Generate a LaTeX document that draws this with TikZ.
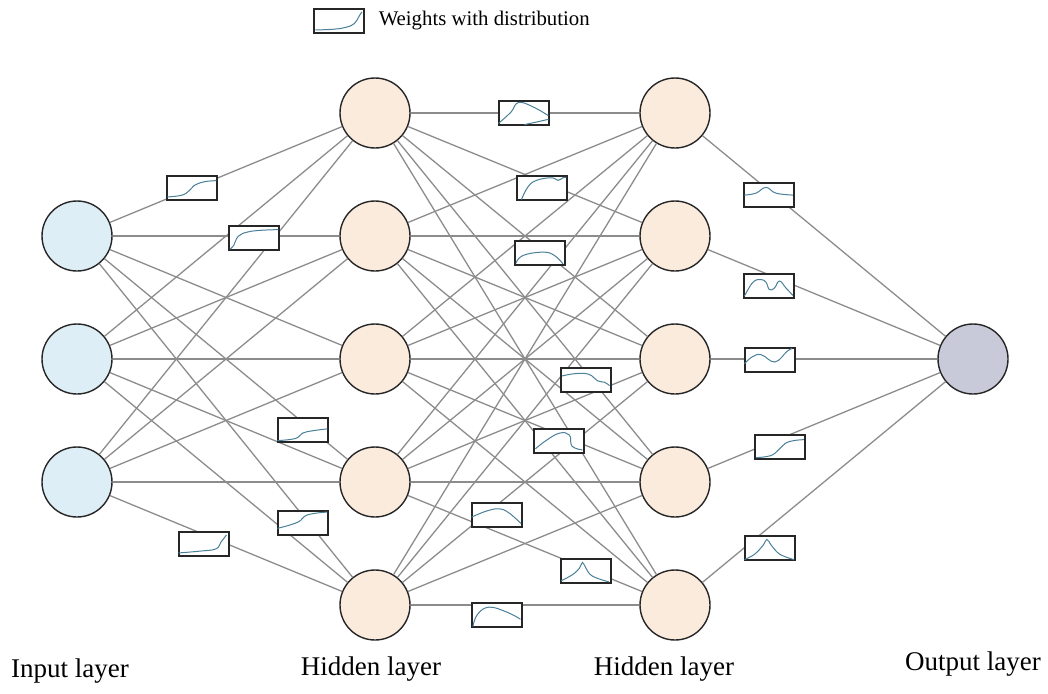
\documentclass[tikz,border=0pt]{standalone}
\usepackage{fontspec}
\setmainfont{Liberation Serif}
\usetikzlibrary{positioning}

\definecolor{inpfill}{HTML}{DEEEF6}
\definecolor{hidfill}{HTML}{FAEBDD}
\definecolor{outfill}{HTML}{C8C9D9}
\definecolor{distcol}{HTML}{4A8098}
\definecolor{linkcol}{HTML}{8C8C8C}

% weight box with a small distribution curve: name, position, curve path
\newcommand{\wdist}[3]{%
  \node[wbox] (#1) at (#2) {};
  \begin{scope}[shift={(#1.south west)}, x=50pt, y=24pt]
    \draw[dist] #3;
  \end{scope}}

\begin{document}
\begin{tikzpicture}[x=1pt, y=-1pt]
    \tikzstyle{neuron} = [circle, draw=black!85, line width=1.4pt, minimum size=70pt, inner sep=0pt]
    \tikzstyle{inp} = [neuron, fill=inpfill]
    \tikzstyle{hid} = [neuron, fill=hidfill]
    \tikzstyle{outp} = [neuron, fill=outfill]
    \tikzstyle{link} = [draw=linkcol, line width=1.3pt]
    \tikzstyle{wbox} = [rectangle, draw=black!85, line width=1.1pt, fill=white, minimum width=50pt, minimum height=24pt, inner sep=0pt]
    \tikzstyle{dist} = [draw=distcol, line width=1pt, smooth, tension=0.7]
    \tikzstyle{lbl} = [inner sep=1pt, font=\fontsize{27}{31}\selectfont]

    \useasboundingbox (0,0) rectangle (1048,693);

    % Nodes
    \foreach \n/\y in {1/236, 2/359, 3/482}
      \node [inp] (i\n) at (77,\y) {};
    \foreach \n/\y in {1/113, 2/236, 3/359, 4/482, 5/605} {
      \node [hid] (h\n) at (375,\y) {};
      \node [hid] (g\n) at (675,\y) {};
    }
    \node [outp] (out) at (973,359) {};

    % Connections
    \foreach \a in {1,2,3}
      \foreach \b in {1,...,5}
        \draw [link] (i\a) -- (h\b);
    \foreach \a in {1,...,5}
      \foreach \b in {1,...,5}
        \draw [link] (h\a) -- (g\b);
    \foreach \a in {1,...,5}
      \draw [link] (g\a) -- (out);

    % Weights
    \wdist{w1}{192,188}{plot coordinates {(0.02,0.15) (0.3,0.22) (0.45,0.4) (0.55,0.62) (0.75,0.78) (1,0.83)}}
    \wdist{w2}{254,238}{plot coordinates {(0.03,0.06) (0.1,0.2) (0.2,0.6) (0.4,0.78) (0.7,0.85) (1,0.87)}}
    \wdist{w3}{303,430}{plot coordinates {(0,0.08) (0.36,0.17) (0.5,0.39) (0.7,0.49) (1,0.57)}}
    \wdist{w4}{303,523}{plot coordinates {(0,0.3) (0.4,0.55) (0.6,0.86) (1,0.98)}}
    \wdist{w5}{204,544}{plot coordinates {(0,0.15) (0.45,0.23) (0.75,0.32) (0.85,0.6) (0.96,0.9)}}
    \wdist{w6}{524,113}{plot coordinates {(0,0.09) (0.25,0.56) (0.4,0.96) (0.69,0.78) (1,0.41)} plot coordinates {(0.52,0.04) (0.79,0.16) (1,0.26)}}
    \wdist{w7}{542,188}{plot coordinates {(0.1,0.04) (0.23,0.57) (0.4,0.84) (0.7,0.95) (0.83,0.84) (0.93,0.95) (1,0.97)}}
    \wdist{w8}{540,253}{plot coordinates {(0.03,0.1) (0.17,0.42) (0.57,0.56) (0.8,0.42) (0.97,0.07)}}
    \wdist{w9}{586,380}{plot coordinates {(0.03,0.69) (0.3,0.79) (0.57,0.76) (0.74,0.49) (0.88,0.43) (0.98,0.29)}}
    \wdist{w10}{559,441}{plot coordinates {(0.04,0.2) (0.25,0.54) (0.52,0.85) (0.72,0.77) (0.77,0.31) (0.98,0.15)}}
    \wdist{w11}{497,515}{plot coordinates {(0,0.43) (0.29,0.68) (0.55,0.78) (0.75,0.61) (0.99,0.17)}}
    \wdist{w12}{586,571}{plot coordinates {(0.01,0.11) (0.24,0.37) (0.38,0.64) (0.44,0.88) (0.51,0.64) (0.64,0.31) (0.97,0.07)}}
    \wdist{w13}{497,615}{plot coordinates {(0.03,0.05) (0.12,0.55) (0.35,0.85) (0.7,0.65) (0.98,0.35)}}
    \wdist{w14}{769,195}{plot coordinates {(0.02,0.52) (0.25,0.6) (0.45,0.84) (0.65,0.6) (0.99,0.52)}}
    \wdist{w15}{769,286}{plot coordinates {(0.02,0.1) (0.19,0.68) (0.35,0.79) (0.45,0.68) (0.52,0.37) (0.62,0.44) (0.72,0.73) (0.85,0.44) (0.99,0.13)}}
    \wdist{w16}{770,360}{plot coordinates {(0,0.37) (0.16,0.66) (0.34,0.74) (0.61,0.44) (0.85,0.88) (0.95,1)}}
    \wdist{w17}{780,447}{plot coordinates {(0.03,0.08) (0.32,0.16) (0.48,0.4) (0.62,0.68) (0.79,0.79) (0.99,0.83)}}
    \wdist{w18}{770,548}{plot coordinates {(0,0.04) (0.2,0.26) (0.37,0.63) (0.45,0.88) (0.54,0.63) (0.71,0.26) (0.99,0.04)}}

    % Legend
    \wdist{legend}{339,21}{plot coordinates {(0.04,0.15) (0.4,0.18) (0.65,0.26) (0.82,0.42) (0.92,0.75) (0.97,0.9)}}
    \node [lbl, font=\fontsize{20.8}{24}\selectfont, right=13pt of legend] (legtext) {Weights with distribution};

    % Layer labels
    \node [lbl] (lblin) at (70,671) {Input layer};
    \node [lbl] (lblh1) at (371,669) {Hidden layer};
    \node [lbl] (lblh2) at (664,669) {Hidden layer};
    \node [lbl] (lblout) at (973,664) {Output layer};
  \end{tikzpicture}
\end{document}
